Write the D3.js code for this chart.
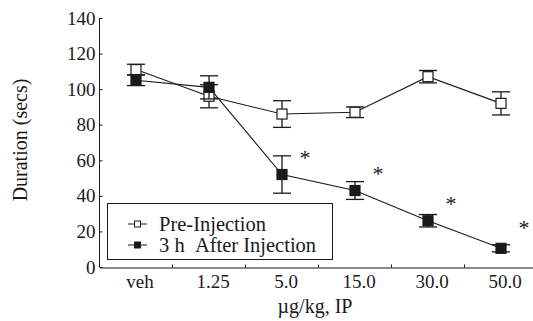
<!DOCTYPE html>
<html>
<head>
<meta charset="utf-8">
<script src="https://cdn.jsdelivr.net/npm/d3@7"></script>
<style>
  body { margin: 0; background: #fff; }
  svg { display: block; font-family: "Liberation Serif", "Times New Roman", serif; }
</style>
</head>
<body>
<div id="chart"></div>
<script>
// ---- data ----
const categories = ["veh", "1.25", "5.0", "15.0", "30.0", "50.0"];
const preMean = [111, 96, 86, 87, 107, 92];
const preErr = [3, 6.5, 7.5, 3, 3.5, 6.5];
const postMean = [105, 101, 52, 43, 26, 10.5];
const postErr = [3, 6.5, 10.5, 5, 3.5, 2];
const starLevel = [null, null, 64, 55, 38, 25]; // asterisks (significance)
const yTicks = [0, 20, 40, 60, 80, 100, 120, 140];

(() => {
  const width = 533, height = 321;
  const ink = "#1a1a1a";
  const serif = "'Liberation Serif', 'Times New Roman', serif";

  const svg = d3.select("#chart").append("svg")
    .attr("width", width).attr("height", height);

  const x = d3.scaleBand().domain(categories).range([99.5, 537.5]);
  const cx = (c) => x(c) + x.bandwidth() / 2;
  const y = d3.scaleLinear().domain([0, 140]).range([267, 18]);

  // y axis
  const yAxis = svg.append("g")
    .attr("transform", "translate(99.5,0)")
    .call(d3.axisLeft(y).tickValues(yTicks).tickSize(-3).tickPadding(4))
    .attr("font-family", serif).attr("font-size", 19);
  yAxis.select(".domain").attr("stroke", ink).attr("d", "M0," + y(140) + "V" + y(0));
  yAxis.selectAll(".tick line").attr("stroke", ink);
  yAxis.selectAll("text").attr("fill", ink);

  // x axis
  const xAxis = svg.append("g")
    .attr("transform", "translate(0,267.5)")
    .call(d3.axisBottom(x).tickSize(0).tickPadding(7.5))
    .attr("font-family", serif).attr("font-size", 19);
  xAxis.select(".domain").attr("stroke", ink);
  xAxis.selectAll("text").attr("fill", ink).attr("dx", 4);

  // small ticks on category boundaries
  svg.append("g").selectAll("line")
    .data(categories.slice(1))
    .enter().append("line")
    .attr("x1", (d) => x(d)).attr("x2", (d) => x(d))
    .attr("y1", 267.5).attr("y2", 264.5)
    .attr("stroke", ink);

  // axis titles
  svg.append("text")
    .attr("transform", "translate(27,140) rotate(-90)")
    .attr("text-anchor", "middle")
    .attr("font-size", 20).attr("fill", ink)
    .text("Duration (secs)");
  svg.append("text")
    .attr("x", 315).attr("y", 313)
    .attr("text-anchor", "middle")
    .attr("font-size", 20).attr("fill", ink)
    .text("\u00b5g/kg, IP");

  // legend box (drawn before data so markers sit on top)
  const legend = svg.append("g");
  legend.append("rect")
    .attr("x", 107.5).attr("y", 203.5).attr("width", 225).attr("height", 56)
    .attr("fill", "#fff").attr("stroke", ink);
  const legendRows = [
    { label: "Pre-Injection", fill: "#fff", y: 224 },
    { label: "3 h\u00a0\u00a0After Injection", fill: ink, y: 245 }
  ];
  legendRows.forEach((r) => {
    legend.append("line")
      .attr("x1", 128).attr("x2", 147).attr("y1", r.y).attr("y2", r.y)
      .attr("stroke", ink);
    legend.append("rect")
      .attr("x", 134.5).attr("y", r.y - 3).attr("width", 6).attr("height", 6)
      .attr("fill", r.fill).attr("stroke", ink);
    legend.append("text")
      .attr("x", 159).attr("y", r.y + 6.5)
      .attr("font-size", 20.5).attr("fill", ink)
      .text(r.label);
  });

  const line = d3.line().x((d) => cx(d.c)).y((d) => y(d.v));

  function drawSeries(means, errs, fill) {
    const pts = categories.map((c, i) => ({ c: c, v: means[i], e: errs[i] }));
    const g = svg.append("g");
    g.append("path").datum(pts)
      .attr("d", line).attr("fill", "none")
      .attr("stroke", ink).attr("stroke-width", 1.1);
    const bars = g.selectAll(".err").data(pts).enter().append("g");
    bars.append("line")
      .attr("x1", (d) => cx(d.c)).attr("x2", (d) => cx(d.c))
      .attr("y1", (d) => y(d.v + d.e)).attr("y2", (d) => y(d.v - d.e))
      .attr("stroke", ink).attr("stroke-width", 1.3);
    [1, -1].forEach((s) => {
      bars.append("line")
        .attr("x1", (d) => cx(d.c) - 9).attr("x2", (d) => cx(d.c) + 9)
        .attr("y1", (d) => y(d.v + s * d.e)).attr("y2", (d) => y(d.v + s * d.e))
        .attr("stroke", ink).attr("stroke-width", 1.3);
    });
    g.selectAll(".mk").data(pts).enter().append("rect")
      .attr("x", (d) => cx(d.c) - 5).attr("y", (d) => y(d.v) - 5)
      .attr("width", 10).attr("height", 10)
      .attr("fill", fill).attr("stroke", ink).attr("stroke-width", 1.2);
  }

  drawSeries(preMean, preErr, "#fff");
  drawSeries(postMean, postErr, ink);

  // significance asterisks
  svg.append("g").selectAll("text")
    .data(categories.map((c, i) => ({ c: c, v: starLevel[i] })).filter((d) => d.v !== null))
    .enter().append("text")
    .attr("x", (d) => cx(d.c) + 23).attr("y", (d) => y(d.v) + 12)
    .attr("text-anchor", "middle")
    .attr("font-size", 22).attr("fill", ink)
    .text("*");
})();
</script>
</body>
</html>
